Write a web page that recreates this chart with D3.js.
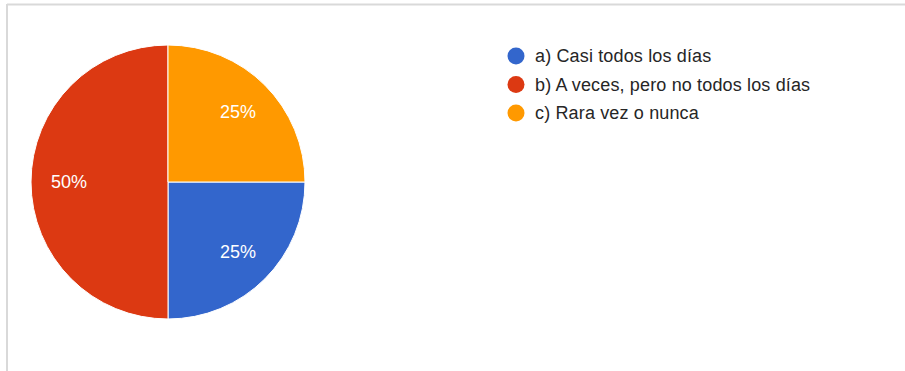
<!DOCTYPE html>
<html>
<head>
<meta charset="utf-8">
<script src="https://cdn.jsdelivr.net/npm/d3@7"></script>
<style>
  html, body { margin: 0; padding: 0; background: #fff; }
  svg { display: block; font-family: Arial, "Liberation Sans", sans-serif; }
</style>
</head>
<body>
<svg id="chart" width="905" height="371"></svg>
<script>
const categories = ["a) Casi todos los días", "b) A veces, pero no todos los días", "c) Rara vez o nunca"];
const values = [1, 2, 1];
const colors = ["#3366cc", "#dc3912", "#ff9900"];

const svg = d3.select("#chart");

// frame lines
svg.append("line").attr("x1", 7).attr("x2", 905).attr("y1", 4.5).attr("y2", 4.5)
  .attr("stroke", "#d9d9d9").attr("stroke-width", 2);
svg.append("line").attr("x1", 7).attr("x2", 7).attr("y1", 4).attr("y2", 371)
  .attr("stroke", "#d9d9d9").attr("stroke-width", 2);

const cx = 168, cy = 182, r = 137;
const data = categories.map((c, i) => ({ name: c, value: values[i], color: colors[i] }));
const total = d3.sum(values);

const pie = d3.pie().sort(null).value(d => d.value)
  .startAngle(Math.PI / 2).endAngle(Math.PI / 2 + 2 * Math.PI);
const arc = d3.arc().innerRadius(0).outerRadius(r);
const labelArc = d3.arc().innerRadius(99).outerRadius(99);

const g = svg.append("g").attr("transform", `translate(${cx},${cy})`);
const arcs = pie(data);
g.selectAll("path").data(arcs).join("path")
  .attr("d", arc).attr("fill", d => d.data.color)
  .attr("stroke", "#fff").attr("stroke-width", 1);

g.selectAll("text").data(arcs).join("text")
  .attr("transform", d => `translate(${labelArc.centroid(d)})`)
  .attr("text-anchor", "middle").attr("dy", "0.36em")
  .attr("fill", "#fff").attr("font-size", 18)
  .text(d => Math.round(d.data.value / total * 100) + "%");

// legend
const lg = svg.append("g").attr("transform", "translate(516,56)");
const items = lg.selectAll("g").data(data).join("g")
  .attr("transform", (d, i) => `translate(0,${i * 28.5})`);
items.append("circle").attr("r", 8.5).attr("fill", d => d.color);
items.append("text").attr("x", 19).attr("dy", "0.36em")
  .attr("font-size", 18).attr("letter-spacing", 0.15).attr("fill", "#262626")
  .text(d => d.name);
</script>
</body>
</html>
